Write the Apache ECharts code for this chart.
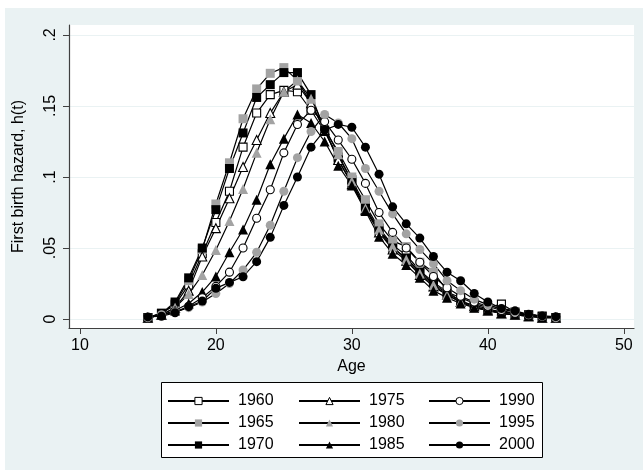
<!DOCTYPE html>
<html lang="en">
<head>
    <meta charset="utf-8">
    <title>First birth hazard by cohort</title>
    <style>
        html, body { margin: 0; padding: 0; background: #fff; }
        #chart { width: 643px; height: 474px; }
    </style>
</head>
<body>
<div id="chart"></div>
<script src="https://cdn.jsdelivr.net/npm/echarts@6/dist/echarts.min.js"></script>
<script>
    // ages 15..45
    let ages = [15, 16, 17, 18, 19, 20, 21, 22, 23, 24, 25, 26, 27, 28, 29, 30,
        31, 32, 33, 34, 35, 36, 37, 38, 39, 40, 41, 42, 43, 44, 45];
    let xTicks = [10, 20, 30, 40, 50];
    let yTicks = [0, 0.05, 0.1, 0.15, 0.2];

    let h1960 = [0.001, 0.004, 0.010, 0.024, 0.046, 0.068, 0.090, 0.121, 0.145, 0.158, 0.161, 0.160, 0.147, 0.132, 0.114, 0.098,
        0.080, 0.064, 0.052, 0.045, 0.034, 0.026, 0.019, 0.015, 0.011, 0.008, 0.0105, 0.005, 0.003, 0.002, 0.001];
    let h1965 = [0.001, 0.004, 0.011, 0.027, 0.049, 0.081, 0.110, 0.141, 0.162, 0.173, 0.177, 0.168, 0.152, 0.133, 0.118, 0.100,
        0.084, 0.067, 0.055, 0.051, 0.040, 0.033, 0.020, 0.012, 0.010, 0.007, 0.005, 0.004, 0.003, 0.002, 0.001];
    let h1970 = [0.001, 0.004, 0.012, 0.029, 0.050, 0.077, 0.106, 0.131, 0.156, 0.165, 0.1735, 0.1735, 0.158, 0.133, 0.112, 0.096,
        0.078, 0.062, 0.050, 0.043, 0.033, 0.025, 0.018, 0.013, 0.009, 0.006, 0.005, 0.004, 0.003, 0.002, 0.001];
    let h1975 = [0.001, 0.003, 0.008, 0.020, 0.044, 0.064, 0.085, 0.107, 0.126, 0.145, 0.160, 0.165, 0.152, 0.133, 0.112, 0.095,
        0.077, 0.061, 0.049, 0.041, 0.031, 0.023, 0.017, 0.012, 0.009, 0.006, 0.004, 0.003, 0.002, 0.001, 0.001];
    let h1980 = [0.001, 0.003, 0.008, 0.0176, 0.031, 0.0486, 0.069, 0.0915, 0.117, 0.1406, 0.160, 0.168, 0.155, 0.135, 0.116, 0.097,
        0.078, 0.063, 0.051, 0.042, 0.032, 0.024, 0.017, 0.012, 0.008, 0.006, 0.004, 0.003, 0.002, 0.001, 0.001];
    let h1985 = [0.001, 0.003, 0.006, 0.011, 0.019, 0.030, 0.047, 0.063, 0.084, 0.109, 0.127, 0.144, 0.138, 0.125, 0.108, 0.094,
        0.076, 0.058, 0.046, 0.038, 0.029, 0.020, 0.015, 0.011, 0.008, 0.006, 0.004, 0.003, 0.002, 0.001, 0.001];
    let h1990 = [0.001, 0.003, 0.005, 0.009, 0.015, 0.023, 0.033, 0.050, 0.071, 0.091, 0.117, 0.137, 0.147, 0.139, 0.126, 0.1125,
        0.0955, 0.075, 0.061, 0.050, 0.040, 0.030, 0.022, 0.016, 0.012, 0.009, 0.006, 0.004, 0.003, 0.002, 0.001];
    let h1995 = [0.001, 0.003, 0.005, 0.008, 0.012, 0.018, 0.025, 0.0345, 0.047, 0.066, 0.090, 0.1136, 0.132, 0.144, 0.138, 0.127,
        0.106, 0.090, 0.074, 0.060, 0.049, 0.039, 0.027, 0.020, 0.014, 0.010, 0.007, 0.005, 0.003, 0.002, 0.001];
    let h2000 = [0.0015, 0.002, 0.0044, 0.0087, 0.0127, 0.0216, 0.0258, 0.0298, 0.0404, 0.0575, 0.080, 0.100, 0.121, 0.133, 0.137, 0.135,
        0.121, 0.102, 0.079, 0.067, 0.057, 0.044, 0.033, 0.027, 0.018, 0.012, 0.0075, 0.0058, 0.0033, 0.0022, 0.0017];

    let cohorts = ['1960', '1965', '1970', '1975', '1980', '1985', '1990', '1995', '2000'];
    let values = [h1960, h1965, h1970, h1975, h1980, h1985, h1990, h1995, h2000];

    // marker look per cohort (Stata mono style)
    let looks = [
        {symbol: 'rect', size: 8, fill: '#fff', hollow: true},
        {symbol: 'rect', size: 9, fill: '#a3a3a3'},
        {symbol: 'rect', size: 9, fill: '#000'},
        {symbol: 'triangle', size: 9, fill: '#fff', hollow: true},
        {symbol: 'triangle', size: 10, fill: '#a3a3a3'},
        {symbol: 'triangle', size: 10, fill: '#000'},
        {symbol: 'circle', size: 8, fill: '#fff', hollow: true},
        {symbol: 'circle', size: 9, fill: '#a3a3a3'},
        {symbol: 'circle', size: 9, fill: '#000'}
    ];

    let series = cohorts.map(function (c, i) {
        let lk = looks[i];
        return {
            name: c,
            type: 'line',
            data: ages.map(function (a, j) { return [a, values[i][j]]; }),
            symbol: lk.symbol,
            symbolSize: lk.size,
            showAllSymbol: true,
            lineStyle: {color: '#000', width: 1.2},
            itemStyle: {
                color: lk.fill,
                borderColor: '#000',
                borderWidth: lk.hollow ? 1.1 : 0
            },
            emphasis: {disabled: true}
        };
    });

    function legendCol(names, left) {
        return {
            orient: 'vertical',
            left: left,
            top: 393,
            padding: 0,
            itemWidth: 61,
            itemHeight: 9,
            itemGap: 6,
            selectedMode: false,
            textStyle: {
                fontFamily: 'Liberation Sans, Arial, sans-serif',
                fontSize: 16,
                lineHeight: 16,
                color: '#000',
                padding: [0, 0, 0, 4]
            },
            data: names.map(function (n) {
                let lk = looks[cohorts.indexOf(n)];
                return {name: n, itemStyle: {borderWidth: lk.hollow ? 1 : 0}};
            })
        };
    }

    let chart = echarts.init(document.getElementById('chart'));
    let option = {
        animation: false,
        backgroundColor: '#fff',
        graphic: [
            {
                type: 'rect', z: -10,
                shape: {x: 5, y: 8, width: 638, height: 462},
                style: {fill: '#eaf2f3'}
            },
            {
                type: 'rect', z: 3,
                shape: {x: 161.5, y: 382.5, width: 381, height: 75},
                style: {fill: '#fff', stroke: '#000', lineWidth: 1}
            }
        ],
        grid: {
            left: 69, right: 9, top: 25, bottom: 146,
            show: true, backgroundColor: '#fff', borderWidth: 0
        },
        legend: [
            legendCol(['1960', '1965', '1970'], 167),
            legendCol(['1975', '1980', '1985'], 298),
            legendCol(['1990', '1995', '2000'], 428)
        ],
        xAxis: {
            type: 'value',
            min: 9.2, max: 50.75,
            name: 'Age',
            nameLocation: 'middle',
            nameGap: 27,
            nameTextStyle: {fontFamily: 'Liberation Sans, Arial, sans-serif', fontSize: 16, color: '#000'},
            axisLine: {show: true, onZero: false, lineStyle: {color: '#404040', width: 1.2}},
            axisTick: {show: true, length: 6, customValues: xTicks, lineStyle: {color: '#404040'}},
            axisLabel: {customValues: xTicks, margin: 10, fontFamily: 'Liberation Sans, Arial, sans-serif', fontSize: 16, color: '#000'},
            splitLine: {show: false}
        },
        yAxis: {
            type: 'value',
            min: -0.0063, max: 0.207,
            name: 'First birth hazard, h(t)',
            nameLocation: 'middle',
            nameRotate: 90,
            nameGap: 42,
            nameTextStyle: {fontFamily: 'Liberation Sans, Arial, sans-serif', fontSize: 16, color: '#000'},
            axisLine: {show: true, onZero: false, lineStyle: {color: '#404040', width: 1.2}},
            axisTick: {show: true, length: 6, customValues: yTicks, lineStyle: {color: '#404040'}},
            axisLabel: {
                customValues: yTicks, rotate: 90, margin: 10,
                fontFamily: 'Liberation Sans, Arial, sans-serif', fontSize: 16, color: '#000',
                formatter: function (v) { return v === 0 ? '0' : String(v).replace(/^0/, ''); }
            },
            splitLine: {show: true, lineStyle: {color: '#eaf2f3', width: 1.2}}
        },
        series: series
    };
    chart.setOption(option);
</script>
</body>
</html>
